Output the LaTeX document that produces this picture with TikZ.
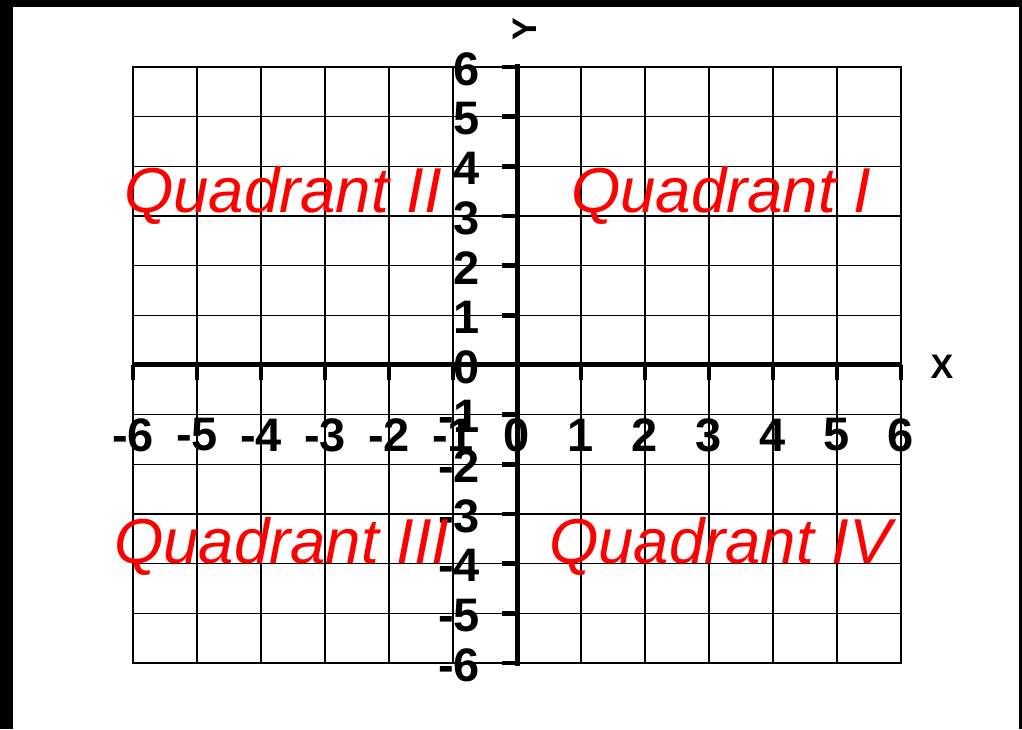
\documentclass[tikz,border=0pt]{standalone}
\usepackage{fontspec}
\setmainfont{Liberation Sans}
\begin{document}
\begin{tikzpicture}[x=1pt,y=1pt,
  gridline/.style={line width=1.6pt, black},
  gridframe/.style={line width=2.6pt, black},
  yaxisline/.style={line width=5pt, black, line cap=rect},
  xaxisline/.style={line width=5pt, black},
  tickline/.style={line width=4.6pt, black},
  numlabel/.style={font=\fontsize{47}{47}\selectfont\bfseries, inner sep=0pt},
  axlabel/.style={font=\fontsize{34}{34}\selectfont\bfseries, inner sep=0pt},
  quadlabel/.style={font=\fontsize{63.5}{63.5}\selectfont\itshape, text=red, inner sep=0pt, anchor=base west}]
\useasboundingbox (0,0) rectangle (1022,729);
\fill[white] (0,0) rectangle (1022,729);
\fill[black] (0,0) rectangle (13,729);
\fill[black] (0,722) rectangle (1022,729);
\fill[black] (1019,0) rectangle (1022,729);
\begin{scope}[shift={(517,364)}, x=64pt, y=49.67pt]
  \foreach \i in {-5,...,5} {
    \draw[gridline] (\i,-6) -- (\i,6);
    \draw[gridline] (-6,\i) -- (6,\i);
  }
  \draw[gridframe] (-6,-6) rectangle (6,6);
  \coordinate (xl) at (-6,0);
  \coordinate (xr) at (6,0);
  \coordinate (yb) at (0,-6);
  \coordinate (yt) at (0,6);
  \draw[xaxisline] (xl) -- (xr);
  \draw[yaxisline] (yb) -- (yt);
  \foreach \k [count=\n] in {-6,...,6} {
    \coordinate (xt\n) at (\k,0);
    \coordinate (yt\n) at (0,\k);
    \draw[tickline] (xt\n) -- ++(0,-15pt);
    \draw[tickline] (yt\n) -- ++(-15pt,0);
    \node[numlabel, anchor=east] (ylab\n) at ([xshift=-37pt,yshift=-2pt]yt\n) {\k};
    \node[numlabel] (xlab\n) at (\k,-1.41) {\k};
  }
\end{scope}
\node[axlabel] (xname) at (942,362) {X};
\node[axlabel, rotate=90] (yname) at (525,700) {Y};
\node[quadlabel] (q2) at (124,516) {Quadrant II};
\node[quadlabel] (q1) at (571,516) {Quadrant I};
\node[quadlabel] (q3) at (114,166) {Quadrant III};
\node[quadlabel] (q4) at (549,166) {Quadrant IV};
\end{tikzpicture}
\end{document}
